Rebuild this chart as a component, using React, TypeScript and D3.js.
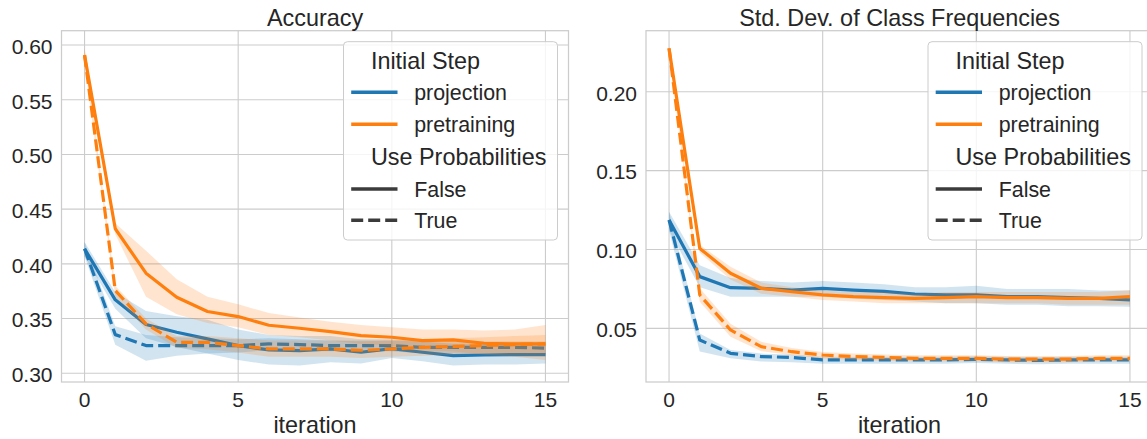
import React from "react";
import * as d3 from "d3";

const iterations = [0, 1, 2, 3, 4, 5, 6, 7, 8, 9, 10, 11, 12, 13, 14, 15];

// Accuracy panel
const accProjFalse = [0.4138, 0.3671, 0.3445, 0.3375, 0.3314, 0.3253, 0.3213, 0.3207, 0.3222, 0.3192, 0.3225, 0.3192, 0.3161, 0.3167, 0.317, 0.317];
const accProjFalseHi = [0.42, 0.374, 0.357, 0.352, 0.349, 0.34, 0.335, 0.334, 0.334, 0.331, 0.331, 0.329, 0.327, 0.327, 0.327, 0.327];
const accProjFalseLo = [0.407, 0.359, 0.332, 0.324, 0.318, 0.312, 0.308, 0.307, 0.31, 0.309, 0.314, 0.311, 0.307, 0.308, 0.308, 0.309];
const accProjTrue = [0.4138, 0.3353, 0.3253, 0.3253, 0.3253, 0.3253, 0.3268, 0.3262, 0.3253, 0.3253, 0.3253, 0.3237, 0.3237, 0.3237, 0.3237, 0.323];
const accProjTrueHi = [0.42, 0.343, 0.335, 0.333, 0.332, 0.331, 0.332, 0.331, 0.33, 0.33, 0.33, 0.329, 0.329, 0.329, 0.329, 0.329];
const accProjTrueLo = [0.407, 0.326, 0.3115, 0.316, 0.318, 0.319, 0.321, 0.32, 0.32, 0.32, 0.32, 0.318, 0.318, 0.318, 0.318, 0.317];
const accPreFalse = [0.5908, 0.4321, 0.3915, 0.3695, 0.3564, 0.3518, 0.3439, 0.3411, 0.3381, 0.3344, 0.3329, 0.3298, 0.3305, 0.3274, 0.3268, 0.3268];
const accPreFalseHi = [0.597, 0.437, 0.412, 0.386, 0.37, 0.363, 0.355, 0.351, 0.347, 0.344, 0.342, 0.34, 0.34, 0.339, 0.34, 0.344];
const accPreFalseLo = [0.584, 0.427, 0.37, 0.354, 0.346, 0.342, 0.335, 0.333, 0.33, 0.327, 0.325, 0.321, 0.32, 0.317, 0.315, 0.312];
const accPreTrue = [0.5908, 0.3756, 0.3451, 0.3283, 0.3283, 0.3253, 0.3222, 0.3222, 0.3222, 0.321, 0.3222, 0.3237, 0.3245, 0.3253, 0.3262, 0.3268];
const accPreTrueHi = [0.597, 0.38, 0.35, 0.334, 0.334, 0.332, 0.33, 0.33, 0.33, 0.329, 0.33, 0.331, 0.332, 0.333, 0.334, 0.335];
const accPreTrueLo = [0.584, 0.37, 0.34, 0.323, 0.322, 0.319, 0.315, 0.315, 0.315, 0.314, 0.315, 0.316, 0.317, 0.318, 0.318, 0.318];

// Std. dev. panel
const stdProjFalse = [0.1187, 0.0828, 0.0758, 0.0754, 0.0743, 0.0754, 0.0743, 0.0735, 0.0718, 0.0712, 0.0712, 0.0701, 0.0701, 0.0695, 0.069, 0.068];
const stdProjFalseHi = [0.124, 0.09, 0.082, 0.08, 0.079, 0.08, 0.079, 0.078, 0.076, 0.076, 0.077, 0.075, 0.075, 0.075, 0.074, 0.074];
const stdProjFalseLo = [0.112, 0.076, 0.07, 0.07, 0.07, 0.07, 0.069, 0.068, 0.067, 0.066, 0.066, 0.065, 0.065, 0.064, 0.064, 0.0637];
const stdProjTrue = [0.1187, 0.0426, 0.0342, 0.0321, 0.0316, 0.03, 0.03, 0.03, 0.03, 0.03, 0.0303, 0.03, 0.0297, 0.03, 0.03, 0.03];
const stdProjTrueHi = [0.124, 0.0468, 0.0363, 0.034, 0.0335, 0.032, 0.032, 0.032, 0.032, 0.032, 0.0323, 0.032, 0.0317, 0.032, 0.032, 0.032];
const stdProjTrueLo = [0.112, 0.0353, 0.031, 0.029, 0.0285, 0.0275, 0.0275, 0.0275, 0.0275, 0.0275, 0.028, 0.0275, 0.0272, 0.0275, 0.0275, 0.0275];
const stdPreFalse = [0.2275, 0.1007, 0.0849, 0.0754, 0.0732, 0.0712, 0.0701, 0.0695, 0.069, 0.0695, 0.0701, 0.0695, 0.0695, 0.069, 0.069, 0.0701];
const stdPreFalseHi = [0.229, 0.103, 0.089, 0.079, 0.076, 0.074, 0.073, 0.073, 0.072, 0.073, 0.073, 0.073, 0.073, 0.073, 0.073, 0.0743];
const stdPreFalseLo = [0.226, 0.098, 0.081, 0.072, 0.07, 0.068, 0.067, 0.066, 0.066, 0.066, 0.066, 0.066, 0.066, 0.065, 0.065, 0.065];
const stdPreTrue = [0.2275, 0.0712, 0.049, 0.0384, 0.0352, 0.0331, 0.0321, 0.0316, 0.031, 0.031, 0.031, 0.0305, 0.0305, 0.0305, 0.031, 0.031];
const stdPreTrueHi = [0.229, 0.0754, 0.053, 0.0415, 0.0375, 0.035, 0.034, 0.0335, 0.033, 0.033, 0.033, 0.0325, 0.0325, 0.0325, 0.033, 0.033];
const stdPreTrueLo = [0.226, 0.0669, 0.0447, 0.0355, 0.033, 0.031, 0.03, 0.0297, 0.029, 0.029, 0.029, 0.0285, 0.0285, 0.0285, 0.029, 0.029];

const xTicks = [0, 5, 10, 15];
const accTicks = [0.3, 0.35, 0.4, 0.45, 0.5, 0.55, 0.6];
const stdTicks = [0.05, 0.1, 0.15, 0.2];

const hueLabels = ["projection", "pretraining"];
const styleLabels = ["False", "True"];
const legendTitles = ["Initial Step", "Use Probabilities"];

const BLUE = "#1f77b4";
const ORANGE = "#ff7f0e";
const TEXT = "#262626";
const GRID = "#cccccc";
const FONT = "'Liberation Sans', Arial, Helvetica, sans-serif";
const DASH = "12 5";

type Series = { mean: number[]; hi: number[]; lo: number[]; color: string; dashed: boolean };

const accSeries: Series[] = [
  { mean: accProjFalse, hi: accProjFalseHi, lo: accProjFalseLo, color: BLUE, dashed: false },
  { mean: accProjTrue, hi: accProjTrueHi, lo: accProjTrueLo, color: BLUE, dashed: true },
  { mean: accPreFalse, hi: accPreFalseHi, lo: accPreFalseLo, color: ORANGE, dashed: false },
  { mean: accPreTrue, hi: accPreTrueHi, lo: accPreTrueLo, color: ORANGE, dashed: true },
];
const stdSeries: Series[] = [
  { mean: stdProjFalse, hi: stdProjFalseHi, lo: stdProjFalseLo, color: BLUE, dashed: false },
  { mean: stdProjTrue, hi: stdProjTrueHi, lo: stdProjTrueLo, color: BLUE, dashed: true },
  { mean: stdPreFalse, hi: stdPreFalseHi, lo: stdPreFalseLo, color: ORANGE, dashed: false },
  { mean: stdPreTrue, hi: stdPreTrueHi, lo: stdPreTrueLo, color: ORANGE, dashed: true },
];

type PanelProps = {
  id: string;
  left: number;
  title: string;
  yDomain: [number, number];
  yTicks: number[];
  series: Series[];
};

const TOP = 30.7;
const BOTTOM = 382;
const WIDTH = 507;

function Panel({ id, left, title, yDomain, yTicks, series }: PanelProps) {
  const x = d3.scaleLinear().domain([-0.75, 15.75]).range([left, left + WIDTH]);
  const y = d3.scaleLinear().domain(yDomain).range([BOTTOM, TOP]);
  const line = d3
    .line<number>()
    .x((_, i) => x(iterations[i]))
    .y((d) => y(d));
  const area = (s: Series) =>
    d3
      .area<number>()
      .x((_, i) => x(iterations[i]))
      .y0((_, i) => y(s.lo[i]))
      .y1((_, i) => y(s.hi[i]))(s.mean) || "";

  const lx = left + WIDTH - 225;
  const ly = 41.7;
  const rows = [18.5, 50.5, 82.5, 115, 147.3, 178.5];

  return (
    <g>
      <defs>
        <clipPath id={id}>
          <rect x={left} y={TOP} width={WIDTH} height={BOTTOM - TOP} />
        </clipPath>
      </defs>
      {/* grid */}
      {xTicks.map((t) => (
        <line key={"gx" + t} x1={x(t)} x2={x(t)} y1={TOP} y2={BOTTOM} stroke={GRID} strokeWidth={1.1} />
      ))}
      {yTicks.map((t) => (
        <line key={"gy" + t} x1={left} x2={left + WIDTH} y1={y(t)} y2={y(t)} stroke={GRID} strokeWidth={1.1} />
      ))}
      {/* data */}
      <g clipPath={`url(#${id})`}>
        {series.map((s, k) => (
          <g key={k}>
            <path d={area(s)} fill={s.color} fillOpacity={0.2} stroke="none" />
            <path
              d={line(s.mean) || ""}
              fill="none"
              stroke={s.color}
              strokeWidth={3.2}
              strokeDasharray={s.dashed ? DASH : undefined}
              strokeLinejoin="round"
            />
          </g>
        ))}
      </g>
      {/* frame */}
      <rect x={left} y={TOP} width={WIDTH} height={BOTTOM - TOP} fill="none" stroke={GRID} strokeWidth={1.25} />
      {/* tick labels */}
      {xTicks.map((t) => (
        <text key={"tx" + t} x={x(t)} y={406.5} textAnchor="middle" fontSize={21} fill={TEXT} fontFamily={FONT}>
          {t}
        </text>
      ))}
      {yTicks.map((t) => (
        <text key={"ty" + t} x={left - 9} y={y(t) + 8.8} textAnchor="end" fontSize={21} fill={TEXT} fontFamily={FONT}>
          {d3.format(".2f")(t)}
        </text>
      ))}
      <text x={left + WIDTH / 2} y={433} textAnchor="middle" fontSize={23.4} fill={TEXT} fontFamily={FONT}>
        iteration
      </text>
      <text x={left + WIDTH / 2} y={26} textAnchor="middle" fontSize={23.4} fill={TEXT} fontFamily={FONT}>
        {title}
      </text>
      {/* legend */}
      <rect x={lx} y={ly} width={214} height={198.3} rx={4} fill="white" fillOpacity={0.8} stroke={GRID} strokeWidth={1} />
      <text x={lx + 27.4} y={ly + rows[0] + 8.5} fontSize={23.4} fill={TEXT} fontFamily={FONT}>
        {legendTitles[0]}
      </text>
      {hueLabels.map((lab, i) => (
        <g key={lab}>
          <line x1={lx + 7.7} x2={lx + 54} y1={ly + rows[1 + i]} y2={ly + rows[1 + i]} stroke={i === 0 ? BLUE : ORANGE} strokeWidth={3.5} />
          <text x={lx + 70.7} y={ly + rows[1 + i] + 7.7} fontSize={21.4} fill={TEXT} fontFamily={FONT}>
            {lab}
          </text>
        </g>
      ))}
      <text x={lx + 27.4} y={ly + rows[3] + 8.5} fontSize={23.4} fill={TEXT} fontFamily={FONT}>
        {legendTitles[1]}
      </text>
      {styleLabels.map((lab, i) => (
        <g key={lab}>
          <line
            x1={lx + 7.7}
            x2={lx + 54}
            y1={ly + rows[4 + i]}
            y2={ly + rows[4 + i]}
            stroke={"#3b3b3b"}
            strokeWidth={3.5}
            strokeDasharray={i === 1 ? DASH : undefined}
          />
          <text x={lx + 70.7} y={ly + rows[4 + i] + 7.7} fontSize={21.4} fill={TEXT} fontFamily={FONT}>
            {lab}
          </text>
        </g>
      ))}
    </g>
  );
}

export default function App() {
  return (
    <svg
      width={1147}
      height={439}
      style={{ position: "absolute", left: 0, top: 0, background: "white" }}
      xmlns="http://www.w3.org/2000/svg"
    >
      <rect x={0} y={0} width={1147} height={439} fill="white" />
      <Panel id="clipA" left={61.5} title="Accuracy" yDomain={[0.292, 0.6131]} yTicks={accTicks} series={accSeries} />
      <Panel
        id="clipB"
        left={646}
        title="Std. Dev. of Class Frequencies"
        yDomain={[0.016, 0.2387]}
        yTicks={stdTicks}
        series={stdSeries}
      />
    </svg>
  );
}
